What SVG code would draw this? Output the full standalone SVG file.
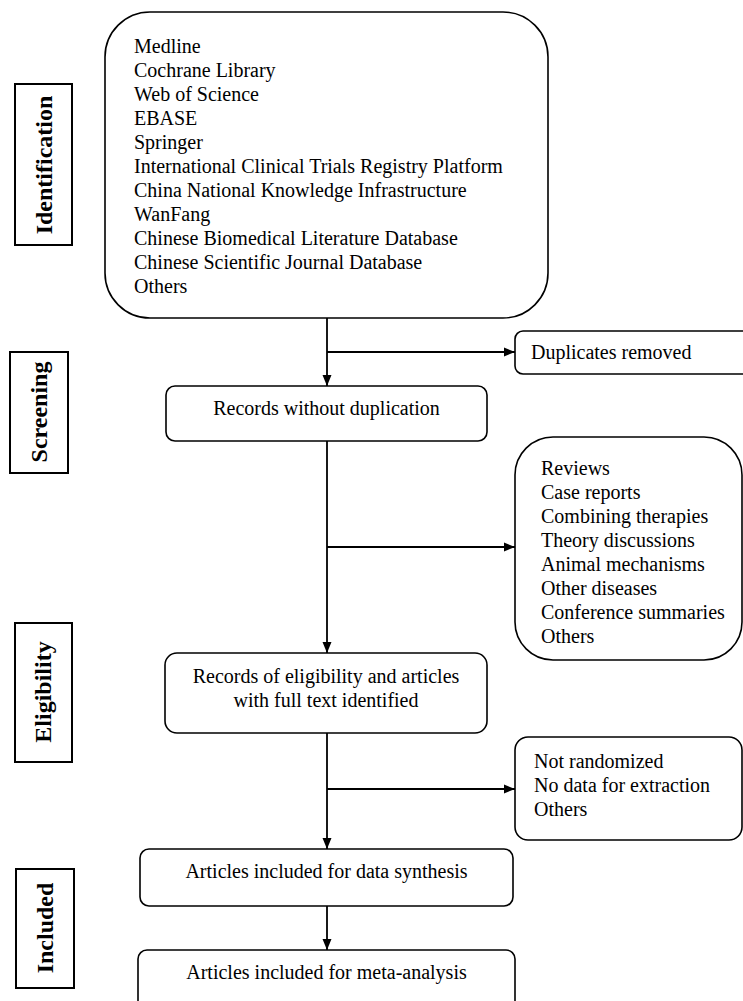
<svg xmlns="http://www.w3.org/2000/svg" width="743" height="1001" viewBox="0 0 743 1001">
<style>
.box{fill:#fff;stroke:#000;stroke-width:1.6}
.side{fill:#fff;stroke:#000;stroke-width:2}
.t{font-family:"Liberation Serif","Times New Roman",serif;font-size:20px;fill:#000}
.c{text-anchor:middle}
.lab{font-family:"Liberation Serif","Times New Roman",serif;font-size:24px;font-weight:bold;fill:#000;text-anchor:middle}
.ln{fill:none;stroke:#000;stroke-width:1.8}
</style>
<defs>
<marker id="ah" markerUnits="userSpaceOnUse" markerWidth="12" markerHeight="12" viewBox="0 0 12 12" refX="11" refY="6" orient="auto">
<path d="M0,1.5 L11,6 L0,10.5 Z" fill="#000"/>
</marker>
</defs>
<rect width="743" height="1001" fill="#fff"/>

<g id="side-identification">
<rect class="side" x="15" y="84" width="57" height="161"/>
<text class="lab" transform="translate(52,165) rotate(-90)">Identification</text>
</g>
<g id="side-screening">
<rect class="side" x="10" y="352" width="58" height="121"/>
<text class="lab" transform="translate(47,412) rotate(-90)">Screening</text>
</g>
<g id="side-eligibility">
<rect class="side" x="15" y="623" width="57" height="139"/>
<text class="lab" transform="translate(51,692) rotate(-90)">Eligibility</text>
</g>
<g id="side-included">
<rect class="side" x="16" y="869" width="58" height="119"/>
<text class="lab" transform="translate(53,928) rotate(-90)">Included</text>
</g>

<g id="sources">
<rect class="box" x="105" y="12" width="443" height="306" rx="45" ry="45"/>
<text class="t" x="134" y="53">Medline</text>
<text class="t" x="134" y="77">Cochrane Library</text>
<text class="t" x="134" y="101">Web of Science</text>
<text class="t" x="134" y="125">EBASE</text>
<text class="t" x="134" y="149">Springer</text>
<text class="t" x="134" y="173">International Clinical Trials Registry Platform</text>
<text class="t" x="134" y="197">China National Knowledge Infrastructure</text>
<text class="t" x="134" y="221">WanFang</text>
<text class="t" x="134" y="245">Chinese Biomedical Literature Database</text>
<text class="t" x="134" y="269">Chinese Scientific Journal Database</text>
<text class="t" x="134" y="293">Others</text>
</g>

<g id="duplicates">
<rect class="box" x="515" y="331" width="240" height="43" rx="8" ry="8"/>
<text class="t" x="531" y="359">Duplicates removed</text>
</g>

<g id="records">
<rect class="box" x="166" y="386" width="321" height="55" rx="9" ry="9"/>
<text class="t c" x="326.5" y="415">Records without duplication</text>
</g>

<g id="excluded1">
<rect class="box" x="515" y="437" width="227" height="223" rx="38" ry="38"/>
<text class="t" x="541" y="475">Reviews</text>
<text class="t" x="541" y="499">Case reports</text>
<text class="t" x="541" y="523">Combining therapies</text>
<text class="t" x="541" y="547">Theory discussions</text>
<text class="t" x="541" y="571">Animal mechanisms</text>
<text class="t" x="541" y="595">Other diseases</text>
<text class="t" x="541" y="619">Conference summaries</text>
<text class="t" x="541" y="643">Others</text>
</g>

<g id="eligibility">
<rect class="box" x="165" y="653" width="322" height="80" rx="12" ry="12"/>
<text class="t c" x="326" y="683">Records of eligibility and articles</text>
<text class="t c" x="326" y="707">with full text identified</text>
</g>

<g id="excluded2">
<rect class="box" x="515" y="737" width="227" height="103" rx="13" ry="13"/>
<text class="t" x="534" y="768">Not randomized</text>
<text class="t" x="534" y="792">No data for extraction</text>
<text class="t" x="534" y="816">Others</text>
</g>

<g id="synthesis">
<rect class="box" x="140" y="849" width="373" height="57" rx="9" ry="9"/>
<text class="t c" x="326.5" y="878">Articles included for data synthesis</text>
</g>

<g id="meta">
<rect class="box" x="138" y="950" width="377" height="60" rx="9" ry="9"/>
<text class="t c" x="326.5" y="979">Articles included for meta-analysis</text>
</g>

<g id="connectors">
<line class="ln" x1="327" y1="318" x2="327" y2="386" marker-end="url(#ah)"/>
<line class="ln" x1="327" y1="352" x2="515" y2="352" marker-end="url(#ah)"/>
<line class="ln" x1="327" y1="441" x2="327" y2="653" marker-end="url(#ah)"/>
<line class="ln" x1="327" y1="547" x2="515" y2="547" marker-end="url(#ah)"/>
<line class="ln" x1="327" y1="733" x2="327" y2="849" marker-end="url(#ah)"/>
<line class="ln" x1="327" y1="789" x2="515" y2="789" marker-end="url(#ah)"/>
<line class="ln" x1="327" y1="906" x2="327" y2="950" marker-end="url(#ah)"/>
</g>
</svg>
